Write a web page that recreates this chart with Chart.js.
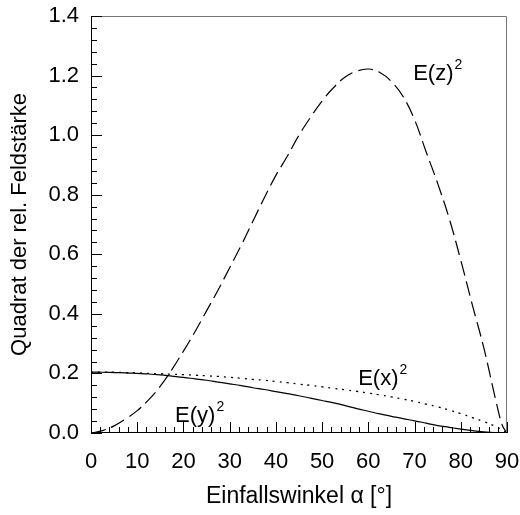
<!DOCTYPE html>
<html lang="de">
<head>
<meta charset="UTF-8">
<title>Feldstärke</title>
<script src="https://cdn.jsdelivr.net/npm/chart.js"></script>
<style>
  body { margin: 0; background: #fff; }
  #wrap { width: 520px; height: 515px; }
</style>
</head>
<body>
<div id="wrap"><canvas id="myChart"></canvas></div>
<script>
// Einfallswinkel in Grad
const angles = [0, 2.5, 5, 7.5, 10, 12.5, 15, 17.5, 20, 22.5, 25, 27.5, 30, 32.5, 35, 37.5, 40, 42.5, 45, 47.5,
  50, 52.5, 55, 57.5, 60, 62.5, 65, 67.5, 70, 72.5, 75, 77.5, 80, 82.5, 85, 87.5, 89, 90];

// E(z)^2 (gestrichelt)
const ez2 = [0, 0.008, 0.024, 0.047, 0.075, 0.112, 0.157, 0.213, 0.275, 0.34, 0.41, 0.48, 0.555, 0.63, 0.71, 0.79,
  0.865, 0.93, 1.0, 1.06, 1.115, 1.16, 1.195, 1.215, 1.222, 1.21, 1.18, 1.13, 1.052, 0.944, 0.838, 0.72,
  0.58, 0.43, 0.285, 0.115, 0.025, 0];

// E(x)^2 (gepunktet)
const ex2 = [0.204, 0.204, 0.204, 0.203, 0.202, 0.2, 0.199, 0.197, 0.196, 0.194, 0.192, 0.19, 0.187, 0.184,
  0.18, 0.177, 0.173, 0.169, 0.164, 0.16, 0.155, 0.15, 0.145, 0.14, 0.134, 0.128, 0.121, 0.114, 0.106, 0.097,
  0.088, 0.077, 0.065, 0.052, 0.038, 0.022, 0.01, 0];

// E(y)^2 (durchgezogen)
const ey2 = [0.204, 0.204, 0.203, 0.202, 0.2, 0.198, 0.195, 0.191, 0.187, 0.182, 0.177, 0.171, 0.165, 0.159,
  0.152, 0.146, 0.139, 0.132, 0.125, 0.117, 0.109, 0.101, 0.092, 0.082, 0.073, 0.064, 0.056, 0.048, 0.041,
  0.033, 0.025, 0.019, 0.013, 0.008, 0.004, 0.001, 0, 0];

const xTicks = [0, 10, 20, 30, 40, 50, 60, 70, 80, 90];
const yTicks = [0.0, 0.2, 0.4, 0.6, 0.8, 1.0, 1.2, 1.4];
const xMinorStep = 2;
const yMinorStep = 0.04;

const curveLabels = [
  { text: 'E(z)', sup: '2', x: 69.7, y: 1.185 },
  { text: 'E(x)', sup: '2', x: 57.8, y: 0.161 },
  { text: 'E(y)', sup: '2', x: 18.2, y: 0.037 }
];

const FONT = '"Liberation Sans", Arial, Helvetica, sans-serif';

const pts = vals => angles.map((a, i) => ({ x: a, y: vals[i] }));

function noPad(s) {
  s.paddingLeft = 0;
  s.paddingRight = 0;
  s.paddingTop = 0;
  s.paddingBottom = 0;
}

// Innen liegende Ticks, Rahmen und Kurvenbeschriftungen
const framePlugin = {
  id: 'frame',
  afterDraw(chart) {
    const ctx = chart.ctx;
    const a = chart.chartArea;
    const xs = chart.scales.x, ys = chart.scales.y;
    ctx.save();
    ctx.lineWidth = 1;
    // oben/rechts grau
    ctx.strokeStyle = '#777';
    ctx.beginPath();
    ctx.moveTo(a.left, a.top + 0.5);
    ctx.lineTo(a.right - 0.5, a.top + 0.5);
    ctx.lineTo(a.right - 0.5, a.bottom);
    ctx.stroke();
    // links/unten schwarz
    ctx.strokeStyle = '#000';
    ctx.beginPath();
    ctx.moveTo(a.left + 0.5, a.top);
    ctx.lineTo(a.left + 0.5, a.bottom - 0.5);
    ctx.lineTo(a.right, a.bottom - 0.5);
    ctx.stroke();

    ctx.beginPath();
    const nx = Math.round((xTicks[xTicks.length - 1] - xTicks[0]) / xMinorStep);
    for (let i = 0; i <= nx; i++) {
      const v = xTicks[0] + i * xMinorStep;
      const px = Math.round(xs.getPixelForValue(v)) + 0.5;
      const len = (v % 10 === 0) ? 11 : 6;
      ctx.moveTo(px, a.bottom);
      ctx.lineTo(px, a.bottom - len);
    }
    const ny = Math.round((yTicks[yTicks.length - 1] - yTicks[0]) / yMinorStep);
    for (let i = 0; i <= ny; i++) {
      const v = yTicks[0] + i * yMinorStep;
      const py = Math.round(ys.getPixelForValue(v)) + 0.5;
      const len = (i % 5 === 0) ? 11 : 6;
      ctx.moveTo(a.left, py);
      ctx.lineTo(a.left + len, py);
    }
    ctx.stroke();

    ctx.fillStyle = '#000';
    ctx.textBaseline = 'alphabetic';
    ctx.textAlign = 'left';
    curveLabels.forEach(l => {
      const px = xs.getPixelForValue(l.x);
      const py = ys.getPixelForValue(l.y);
      ctx.font = '22px ' + FONT;
      ctx.fillText(l.text, px, py);
      const w = ctx.measureText(l.text).width;
      ctx.font = '14px ' + FONT;
      ctx.fillText(l.sup, px + w + 1, py - 11);
    });
    ctx.restore();
  }
};

new Chart(document.getElementById('myChart'), {
  type: 'line',
  data: {
    datasets: [
      { label: 'E(z)^2', data: pts(ez2), borderColor: '#000', borderWidth: 1.2, borderDash: [15, 6] },
      { label: 'E(x)^2', data: pts(ex2), borderColor: '#000', borderWidth: 1.3, borderDash: [2, 5] },
      { label: 'E(y)^2', data: pts(ey2), borderColor: '#000', borderWidth: 1.2 }
    ]
  },
  options: {
    responsive: true,
    maintainAspectRatio: false,
    animation: false,
    devicePixelRatio: 1,
    layout: { padding: { left: 0, top: 16, right: 13, bottom: 0 } },
    elements: {
      point: { radius: 0 },
      line: { tension: 0.4, fill: false }
    },
    plugins: {
      legend: { display: false },
      tooltip: { enabled: false }
    },
    scales: {
      x: {
        type: 'linear',
        min: 0,
        max: 90,
        afterFit: s => { s.height = 82; noPad(s); },
        afterBuildTicks: s => { s.ticks = xTicks.map(v => ({ value: v })); },
        grid: { display: false, drawTicks: false },
        border: { display: false },
        ticks: { color: '#000', padding: 16, font: { family: FONT, size: 22 }, maxRotation: 0 },
        title: { display: true, text: 'Einfallswinkel α [°]', color: '#000', padding: { top: 0, bottom: 5 }, font: { family: FONT, size: 23 } }
      },
      y: {
        min: 0,
        max: 1.4,
        afterFit: s => { s.width = 91; noPad(s); },
        afterBuildTicks: s => { s.ticks = yTicks.map(v => ({ value: v })); },
        grid: { display: false, drawTicks: false },
        border: { display: false },
        ticks: { color: '#000', padding: 12, font: { family: FONT, size: 22 }, callback: v => v.toFixed(1) },
        title: { display: true, text: 'Quadrat der rel. Feldstärke', color: '#000', padding: { top: 7, bottom: 0 }, font: { family: FONT, size: 22 } }
      }
    }
  },
  plugins: [framePlugin]
});
</script>
</body>
</html>
